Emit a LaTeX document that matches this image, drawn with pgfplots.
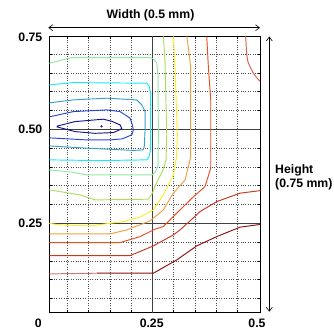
\documentclass[border=0pt]{standalone}
\usepackage{pgfplots}
\pgfplotsset{compat=1.18}
\usepackage{fontspec}
\setmainfont{Liberation Sans}
\usetikzlibrary{arrows.meta}
\definecolor{cnavy}{HTML}{14148C}
\definecolor{cblue}{HTML}{2848D0}
\definecolor{csteel}{HTML}{38A0C8}
\definecolor{ccyan}{HTML}{18E8F8}
\definecolor{clgreen}{HTML}{90E8A0}
\definecolor{cygreen}{HTML}{A8E060}
\definecolor{cyellow}{HTML}{F8F020}
\definecolor{corange}{HTML}{F0A040}
\definecolor{credor}{HTML}{E85020}
\definecolor{cred}{HTML}{C83820}
\definecolor{cdred}{HTML}{901010}
\definecolor{cpink}{HTML}{C87878}
\definecolor{csalmon}{HTML}{D86048}
\begin{document}
\begin{tikzpicture}
\tikzset{lab/.style={font=\bfseries\fontsize{12.3}{14}\selectfont, inner sep=0pt}}
\begin{axis}[
  scale only axis, width=211bp, height=276.4bp,
  xmin=0.008, xmax=0.5035, ymin=0.012, ymax=0.747,
  xtick={0.05,0.1,0.15,0.2,0.25,0.3,0.35,0.4,0.45},
  ytick={0.05,0.1,0.15,0.2,0.25,0.3,0.35,0.4,0.45,0.5,0.55,0.6,0.65,0.7},
  xticklabels={}, yticklabels={},
  tick align=inside, major tick length=2.5bp,
  tick style={black, line width=0.4pt},
  grid=major, major grid style={dotted, black!70, line width=0.5pt},
  axis line style={black, line width=0.8pt},
  clip=true,
  every axis plot/.append style={line width=0.95pt, no marks},
]
\draw[black!75, line width=0.8pt] (axis cs:0.25,0.012) -- (axis cs:0.25,0.747);
\draw[black!75, line width=0.8pt] (axis cs:0.008,0.25) -- (axis cs:0.5035,0.25);
\draw[black!75, line width=0.8pt] (axis cs:0.008,0.5) -- (axis cs:0.5035,0.5);
% dark blue inner
\addplot[cnavy] coordinates {(0.0263,0.5082) (0.0685,0.5202) (0.1350,0.5266) (0.1547,0.5210) (0.1742,0.5114) (0.1782,0.5020) (0.1742,0.4990) (0.1585,0.4910) (0.1155,0.4890) (0.0685,0.4936) (0.0263,0.5060) (0.0263,0.5082)};
\addplot[cnavy, only marks, mark=*, mark size=0.6pt] coordinates {(0.1308,0.5075)};
% blue
\addplot[cblue] coordinates {(0.008,0.5327) (0.0646,0.5468) (0.1430,0.5513) (0.1742,0.5468) (0.1977,0.5293) (0.2031,0.5114) (0.2054,0.4981) (0.2016,0.4848) (0.1789,0.4742) (0.1507,0.4715) (0.0960,0.4715) (0.008,0.4769)};
% steel
\addplot[csteel] coordinates {(0.008,0.570) (0.0646,0.5779) (0.1430,0.5824) (0.2134,0.5779) (0.2251,0.5646) (0.2329,0.5468) (0.2329,0.4981) (0.2310,0.4537) (0.2282,0.4449) (0.2054,0.4436) (0.0960,0.4495) (0.008,0.4556)};
% cyan
\addplot[ccyan] coordinates {(0.008,0.6178) (0.0646,0.6239) (0.2369,0.6223) (0.2430,0.6133) (0.2458,0.5912) (0.2458,0.4449) (0.2423,0.4263) (0.2369,0.4184) (0.1272,0.4165) (0.008,0.4184)};
% light green
\addplot[clgreen] coordinates {(0.008,0.6755) (0.0608,0.6904) (0.2446,0.6904) (0.2523,0.6870) (0.2603,0.6765) (0.2634,0.6444) (0.2641,0.4848) (0.2634,0.4051) (0.2575,0.3864) (0.2493,0.3785) (0.0960,0.3785) (0.0568,0.3864) (0.008,0.3918)};
% yellow-green
\addplot[cygreen] coordinates {(0.2758,0.747) (0.2798,0.6798) (0.2838,0.4848) (0.2822,0.4184) (0.2751,0.3918) (0.2634,0.3652) (0.2563,0.3492) (0.2505,0.3306) (0.2406,0.3138) (0.1155,0.3120) (0.0803,0.3253) (0.008,0.3386)};
% yellow
\addplot[cyellow] coordinates {(0.2993,0.747) (0.3033,0.6630) (0.3087,0.4848) (0.3068,0.4263) (0.2993,0.3785) (0.2758,0.3253) (0.2523,0.2854) (0.2211,0.2660) (0.1819,0.2543) (0.1038,0.2428) (0.0333,0.2455) (0.008,0.2495)};
% orange
\addplot[corange] coordinates {(0.3308,0.747) (0.3369,0.6976) (0.3401,0.6630) (0.3401,0.4263) (0.3268,0.3652) (0.2993,0.3298) (0.2758,0.2854) (0.2446,0.2561) (0.1899,0.2322) (0.1507,0.2215) (0.008,0.2215)};
% red-orange
\addplot[credor] coordinates {(0.3777,0.747) (0.3815,0.6665) (0.3871,0.5779) (0.3871,0.3963) (0.3737,0.3473) (0.3462,0.3200) (0.3150,0.2854) (0.2758,0.2412) (0.2563,0.2340) (0.2211,0.2144) (0.1742,0.1984) (0.008,0.1984)};
% red
\addplot[cred] coordinates {(0.5035,0.3367) (0.4559,0.3298) (0.4012,0.3074) (0.3620,0.2809) (0.3385,0.2561) (0.3150,0.2322) (0.2993,0.2189) (0.2523,0.1896) (0.1977,0.1638) (0.008,0.1638)};
% dark red
\addplot[cdred] coordinates {(0.5035,0.2468) (0.4559,0.2394) (0.4012,0.2144) (0.3542,0.1896) (0.3073,0.1524) (0.2523,0.1170) (0.1202,0.1170)};
\addplot[cpink] coordinates {(0.1202,0.1170) (0.008,0.1152)};
% salmon top right
\addplot[csalmon] coordinates {(0.4692,0.747) (0.4716,0.6976) (0.4746,0.6790) (0.4793,0.6665) (0.4871,0.6489) (0.4934,0.6390) (0.5035,0.6266)};
\end{axis}
% tick labels
\node[lab, anchor=east] at (-6.8bp,275.5bp) {0.75};
\node[lab, anchor=east] at (-6.8bp,183.4bp) {0.50};
\node[lab, anchor=east] at (-6.8bp,89.4bp) {0.25};
\node[lab, anchor=base] at (-11bp,-14.8bp) {0};
\node[lab, anchor=base] at (102.4bp,-14.8bp) {0.25};
\node[lab, anchor=base] at (207.7bp,-14.8bp) {0.5};
% title and arrows
\node[lab, anchor=base] at (101.2bp,294.4bp) {Width (0.5 mm)};
\draw[black, line width=0.6pt, {Straight Barb[length=4bp,width=6bp]}-{Straight Barb[length=4bp,width=6bp]}] (-1bp,285bp) -- (210.7bp,285bp);
\draw[black, line width=0.6pt, {Straight Barb[length=4bp,width=6bp]}-{Straight Barb[length=4bp,width=6bp]}] (220bp,276.2bp) -- (220bp,1bp);
\node[lab, anchor=base west] at (225.7bp,139.4bp) {Height};
\node[lab, anchor=base west] at (225.7bp,125.2bp) {(0.75 mm)};
\pgfresetboundingbox
\path[use as bounding box] (-49.3bp,-18.3bp) rectangle (284.7bp,312.7bp);
\end{tikzpicture}
\end{document}
